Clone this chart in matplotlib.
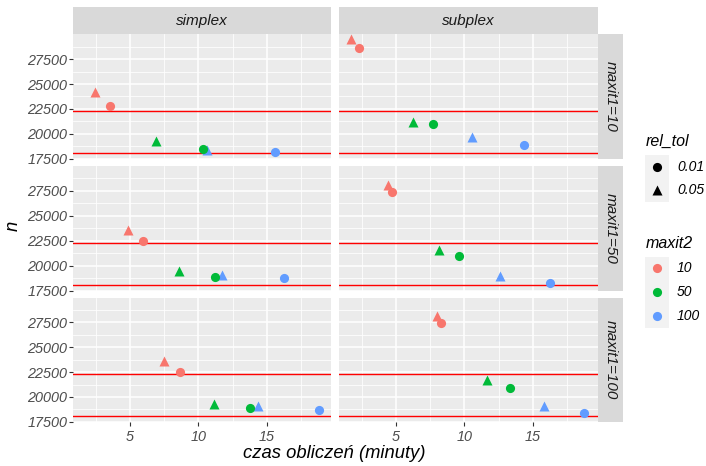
import matplotlib
matplotlib.use("Agg")
import matplotlib.pyplot as plt

plt.rcParams['font.family'] = ['Liberation Sans', 'DejaVu Sans']
plt.rcParams['font.style'] = 'italic'

# facets and legend levels
methods = ["simplex", "subplex"]
maxit1_levels = [10, 50, 100]
maxit2_levels = [10, 50, 100]
rel_tol_levels = ["0.01", "0.05"]
maxit2_colors = ["#F8766D", "#00BA38", "#619CFF"]

# reference lines for n
ref_lines = [22300, 18050]

# computation time (minutes) and n; rows = maxit1, columns = maxit2
czas_simplex_001 = [[3.56, 10.33, 15.58], [5.97, 11.19, 16.24], [8.66, 13.77, 18.84]]
n_simplex_001 = [[22760, 18460, 18160], [22500, 18920, 18750], [22460, 18900, 18730]]
czas_simplex_005 = [[2.45, 6.87, 10.62], [4.88, 8.58, 11.75], [7.48, 11.12, 14.37]]
n_simplex_005 = [[24160, 19250, 18400], [23540, 19450, 19080], [23630, 19330, 19060]]

czas_subplex_001 = [[2.29, 7.68, 14.34], [4.71, 9.63, 16.21], [8.27, 13.29, 18.68]]
n_subplex_001 = [[28660, 21000, 18900], [27430, 20960, 18330], [27460, 20900, 18400]]
czas_subplex_005 = [[1.76, 6.24, 10.54], [4.44, 8.17, 12.63], [8.00, 11.66, 15.80]]
n_subplex_005 = [[29560, 21160, 19660], [28090, 21630, 18990], [28160, 21660, 19060]]

series = {
    "simplex": {"0.01": (czas_simplex_001, n_simplex_001), "0.05": (czas_simplex_005, n_simplex_005)},
    "subplex": {"0.01": (czas_subplex_001, n_subplex_001), "0.05": (czas_subplex_005, n_subplex_005)},
}
shapes = {"0.01": "o", "0.05": "^"}
msizes = {"0.01": 6.6, "0.05": 7.6}

W, H = 706, 466
fig = plt.figure(figsize=(W / 100, H / 100), dpi=100)


def box(x0, y0, x1, y1):
    return [x0 / W, 1 - y1 / H, (x1 - x0) / W, (y1 - y0) / H]


col_x = [(73.3, 331.0), (339.0, 597.5)]
row_y = [(34.3, 158.8), (166.0, 291.0), (297.5, 422.0)]
tick_color = "#4D4D4D"

for r, m1 in enumerate(maxit1_levels):
    for c, method in enumerate(methods):
        ax = fig.add_axes(box(col_x[c][0], row_y[r][0], col_x[c][1], row_y[r][1]))
        ax.set_facecolor("#EBEBEB")
        for s in ax.spines.values():
            s.set_visible(False)
        ax.set_xlim(0.86, 19.7)
        ax.set_ylim(17480, 30000)
        ax.set_xticks([5, 10, 15])
        ax.set_xticks([2.5, 7.5, 12.5, 17.5], minor=True)
        ax.set_yticks([17500, 20000, 22500, 25000, 27500])
        ax.set_yticks([18750, 21250, 23750, 26250, 28750], minor=True)
        ax.grid(which="major", color="white", lw=1.1)
        ax.grid(which="minor", color="white", lw=0.55)
        ax.set_axisbelow(True)
        ax.tick_params(which="minor", length=0)
        ax.tick_params(which="major", length=2.75, width=0.8, color="#333333",
                       labelcolor=tick_color, labelsize=10.4)
        ax.tick_params(axis="x", pad=3)
        ax.tick_params(axis="y", pad=1.5)
        if c != 0:
            ax.tick_params(axis="y", left=False, labelleft=False)
        if r != len(maxit1_levels) - 1:
            ax.tick_params(axis="x", bottom=False, labelbottom=False)

        for yv in ref_lines:
            ax.axhline(yv, color="#FF0000", lw=1.0, zorder=2)

        for tol in ["0.05", "0.01"]:
            xs, ys = series[method][tol]
            for k, col in enumerate(maxit2_colors):
                ax.plot(xs[r][k], ys[r][k], marker=shapes[tol], ms=msizes[tol],
                        color=col, mec="none", ls="none", zorder=3)

        # right strip
        if c == len(methods) - 1:
            sx = fig.add_axes(box(597.5, row_y[r][0], 623.3, row_y[r][1]))
            sx.set_facecolor("#D9D9D9")
            sx.set_xticks([]); sx.set_yticks([])
            for s in sx.spines.values():
                s.set_visible(False)
            sx.text(0.5, 0.5, f"maxit1={m1}", rotation=270, ha="center", va="center",
                    fontsize=11, color="#1A1A1A", transform=sx.transAxes)

# top strips
for c, method in enumerate(methods):
    sx = fig.add_axes(box(col_x[c][0], 7.3, col_x[c][1], 34.3))
    sx.set_facecolor("#D9D9D9")
    sx.set_xticks([]); sx.set_yticks([])
    for s in sx.spines.values():
        s.set_visible(False)
    sx.text(0.5, 0.48, method, ha="center", va="center", fontsize=11,
            color="#1A1A1A", transform=sx.transAxes)

# axis titles
fig.text(334 / W, 1 - 454 / H, "czas obliczeń (minuty)", ha="center", va="center",
         fontsize=13.2, color="black")
fig.text(13 / W, 1 - 226 / H, "n", rotation=90, ha="center", va="center",
         fontsize=13.2, color="black")


def legend_block(title, labels, markers, colors, top, key_h=23.3):
    fig.text(645.7 / W, 1 - (top - 13.5) / H, title, ha="left", va="center",
             fontsize=11.5, color="black")
    n = len(labels)
    lx = fig.add_axes(box(645, top, 669, top + key_h * n))
    lx.set_facecolor("#F2F2F2")
    lx.set_xticks([]); lx.set_yticks([])
    for s in lx.spines.values():
        s.set_visible(False)
    lx.set_xlim(0, 1)
    lx.set_ylim(n, 0)
    for i, (lab, mk, col) in enumerate(zip(labels, markers, colors)):
        lx.plot(0.5, i + 0.5, marker=mk, ms=msizes["0.05"] if mk == "^" else msizes["0.01"],
                color=col, mec="none", ls="none")
        fig.text(677 / W, 1 - (top + key_h * (i + 0.5)) / H, lab, ha="left", va="center",
                 fontsize=10, color="black")


legend_block("rel_tol", rel_tol_levels, [shapes[t] for t in rel_tol_levels],
             ["black", "black"], 155)
legend_block("maxit2", [str(v) for v in maxit2_levels], ["o", "o", "o"],
             maxit2_colors, 256.5, key_h=23.8)

fig.savefig("out.png", dpi=100)
